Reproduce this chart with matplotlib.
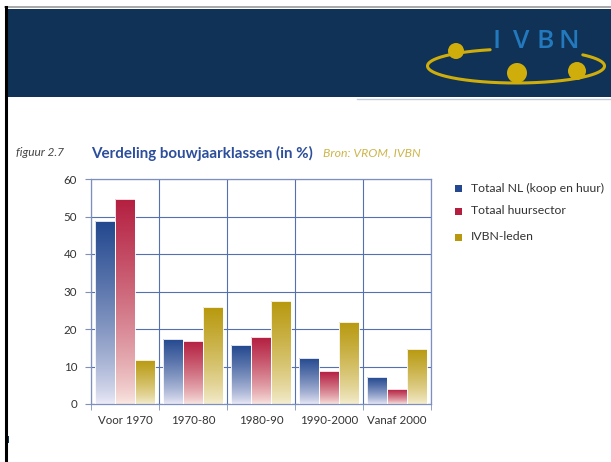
import numpy as np
import matplotlib
matplotlib.use("Agg")
import matplotlib.pyplot as plt
from matplotlib.patches import Rectangle, Circle
from matplotlib.lines import Line2D
from matplotlib.colors import to_rgb

# data (percentages)
categories = ['Voor 1970', '1970-80', '1980-90', '1990-2000', 'Vanaf 2000']
totaal_nl = [48.7, 17.4, 15.7, 12.4, 7.1]
huursector = [54.8, 16.9, 17.8, 8.7, 3.9]
ivbn_leden = [11.8, 25.8, 27.4, 22.0, 14.7]
series_names = ['Totaal NL (koop en huur)', 'Totaal huursector', 'IVBN-leden']

top_colors = ['#23488f', '#b41f40', '#b8990e']
pale_colors = ['#ecebf8', '#fae8e2', '#f5eed2']

W, H = 611, 462
fig = plt.figure(figsize=(W / 100, H / 100), dpi=100)
fig.patch.set_facecolor('white')
plt.rcParams['font.family'] = ['Lato', 'DejaVu Sans']


def fx(x):
    return x / W


def fy(y):
    return 1 - y / H


# slide decoration: border, banner, logo
fig.add_artist(Line2D([fx(5), fx(611)], [fy(7), fy(7)], color='#9a9a9a', lw=1.2))
fig.add_artist(Rectangle((fx(7), fy(97)), fx(604), (97 - 9) / H, color='#0f3256', lw=0))
fig.add_artist(Line2D([fx(6), fx(6)], [fy(7), fy(462)], color='black', lw=2.2))
fig.add_artist(Line2D([fx(357), fx(611)], [fy(98.5), fy(98.5)], color='#c5ccd8', lw=1))
fig.add_artist(Rectangle((fx(6), fy(443)), fx(3), 7 / H, color='#0f3256', lw=0))

gold = '#cfae0c'
logo = fig.add_axes([0, 0, 1, 1], facecolor='none')
logo.set_zorder(5)
logo.set_xlim(0, W)
logo.set_ylim(H, 0)
logo.axis('off')
th = np.radians(np.linspace(107, 401, 200))
logo.plot(516 + 88.5 * np.cos(th), 66 - 17 * np.sin(th), color=gold, lw=2.2,
          solid_capstyle='round')
for cx, cy, r in [(456, 51, 8), (517, 73, 10), (577, 71, 9)]:
    logo.add_patch(Circle((cx, cy), r, color=gold, lw=0))
for i, letter in enumerate('IVBN'):
    logo.text(497 + i * 24, 42, letter, color='#2379bd', fontsize=19, fontweight='semibold',
              ha='center', va='center', family=['Open Sans', 'DejaVu Sans'])

# titles
fig.text(fx(16), fy(153), 'figuur 2.7', fontsize=8.6, style='italic', color='#444444', va='center')
fig.text(fx(91), fy(153), 'Verdeling bouwjaarklassen (in %)', fontsize=10.9, fontweight='bold',
         color='#2c4e9b', va='center')
fig.text(fx(323), fy(153), 'Bron: VROM, IVBN', fontsize=8.8, style='italic', color='#cdb64a', va='center')

# chart
ax = fig.add_axes([fx(91), fy(404), fx(340), (404 - 179) / H])
x = np.arange(len(categories))
bw = 0.29
series = [totaal_nl, huursector, ivbn_leden]

for k, vals in enumerate(series):
    bars = ax.bar(x + (k - 1) * bw, vals, width=bw, facecolor='none', edgecolor='white',
                  lw=0.6, zorder=3)
    c_top = np.array(to_rgb(top_colors[k]))
    c_bot = np.array(to_rgb(pale_colors[k]))
    t = np.linspace(0, 1, 100) ** 0.75
    grad = (c_bot[None, :] * (1 - t[:, None]) + c_top[None, :] * t[:, None])[:, None, :]
    for b in bars:
        x0, w, h = b.get_x(), b.get_width(), b.get_height()
        im = ax.imshow(grad, extent=[x0, x0 + w, 0, h], origin='lower', aspect='auto',
                       zorder=2, interpolation='bilinear')
        im.set_clip_path(b)

ax.set_xlim(-0.5, len(categories) - 0.5)
ax.set_ylim(0, 60)
ax.set_yticks(range(0, 61, 10))
ax.set_xticks(x)
ax.set_xticklabels(categories)
ax.set_xticks(np.arange(-0.5, len(categories), 1), minor=True)
ax.tick_params(axis='x', which='major', length=0, pad=8, labelsize=8.3, labelcolor='#333333')
ax.tick_params(axis='x', which='minor', length=4, color='#8090bb', direction='out')
ax.tick_params(axis='y', length=4, color='#8090bb', pad=6, labelsize=8.3, labelcolor='#333333')
ax.grid(axis='y', which='major', color='#5570b0', lw=0.8, zorder=1)
ax.grid(axis='x', which='minor', color='#5570b0', lw=0.8, zorder=1)
ax.set_axisbelow(True)
for s in ax.spines.values():
    s.set_color('#7d8fc0')
    s.set_linewidth(0.9)

# legend
for k, name in enumerate(series_names):
    yy = [188, 211, 237][k]
    fig.add_artist(Rectangle((fx(455), fy(yy + 3.5)), fx(7), 7 / H, color=top_colors[k], lw=0))
    fig.text(fx(471), fy(yy), name, fontsize=8.8, color='#333333', va='center')

fig.savefig('out.png', dpi=100)
